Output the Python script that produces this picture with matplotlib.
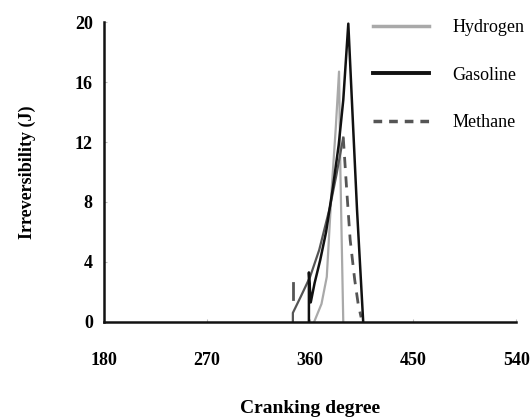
import matplotlib.pyplot as plt

plt.rcParams["font.family"] = ["Liberation Serif", "DejaVu Serif"]

# values (crank angle in degrees, irreversibility in J)
hydrogen_deg = [363.6, 370.0, 374.6, 379.0, 382.5, 385.3, 386.5, 389.0]
hydrogen_val = [0.0, 1.2, 3.0, 9.0, 13.0, 16.7, 10.0, 0.0]

gasoline_deg = [359.0, 359.0, 360.6, 364.0, 368.8, 374.0, 380.0, 385.0, 389.0, 393.4, 397.0, 401.0, 406.4]
gasoline_val = [0.0, 3.3, 1.3, 2.6, 4.1, 6.0, 9.0, 11.8, 14.8, 19.9, 14.0, 7.5, 0.0]

methane_up_deg = [345.0, 345.0, 352.0, 360.0, 368.0, 377.5, 383.0, 389.0]
methane_up_val = [0.0, 0.6, 1.7, 3.0, 4.8, 7.7, 9.8, 12.3]
methane_down_deg = [389.0, 392.0, 395.0, 399.0, 402.0, 404.6]
methane_down_val = [12.3, 8.8, 5.5, 2.8, 1.2, 0.3]
methane_tick_deg = [345.2, 345.2]
methane_tick_val = [1.5, 2.6]

x_ticks = [180, 270, 360, 450, 540]
y_ticks = [0, 4, 8, 12, 16, 20]

fig = plt.figure(figsize=(5.3, 4.18), dpi=100)
ax = fig.add_axes([0.196, 0.23, 0.778, 0.717])

ax.plot(hydrogen_deg, hydrogen_val, color="#a9a9a9", lw=1.6, label="Hydrogen")
ax.plot(methane_up_deg, methane_up_val, color="#555555", lw=1.6)
ax.plot(methane_down_deg, methane_down_val, color="#555555", lw=2.0, ls=(0, (4, 3)))
ax.plot(methane_tick_deg, methane_tick_val, color="#555555", lw=2.0)
ax.plot(gasoline_deg, gasoline_val, color="#111111", lw=1.8, label="Gasoline")
ax.plot([], [], color="#555555", lw=2.5, ls=(0, (2.5, 2)), label="Methane")

ax.set_xlim(180, 540)
ax.set_ylim(0, 20)
ax.set_xticks(x_ticks)
ax.set_yticks(y_ticks)
ax.tick_params(axis="both", direction="in", length=2, color="#bbbbbb",
               labelsize=13)
ax.tick_params(axis="x", pad=22)
ax.tick_params(axis="y", pad=8)
for lab in ax.get_xticklabels() + ax.get_yticklabels():
    lab.set_fontweight("bold")

for side in ["top", "right"]:
    ax.spines[side].set_visible(False)
for side in ["left", "bottom"]:
    ax.spines[side].set_linewidth(1.8)
    ax.spines[side].set_color("#111111")

ax.set_xlabel("Cranking degree", fontsize=14, fontweight="bold", labelpad=22)
ax.set_ylabel("Irreversibility (J)", fontsize=13, fontweight="bold", labelpad=28)

leg = ax.legend(loc="upper right", bbox_to_anchor=(1.06, 1.065), frameon=False,
                fontsize=13, handlelength=3.1, handletextpad=1.3,
                labelspacing=1.7)
handles = leg.legend_handles
handles[0].set_linewidth(2.5)
handles[1].set_linewidth(2.8)

fig.savefig("out.png", dpi=100)
